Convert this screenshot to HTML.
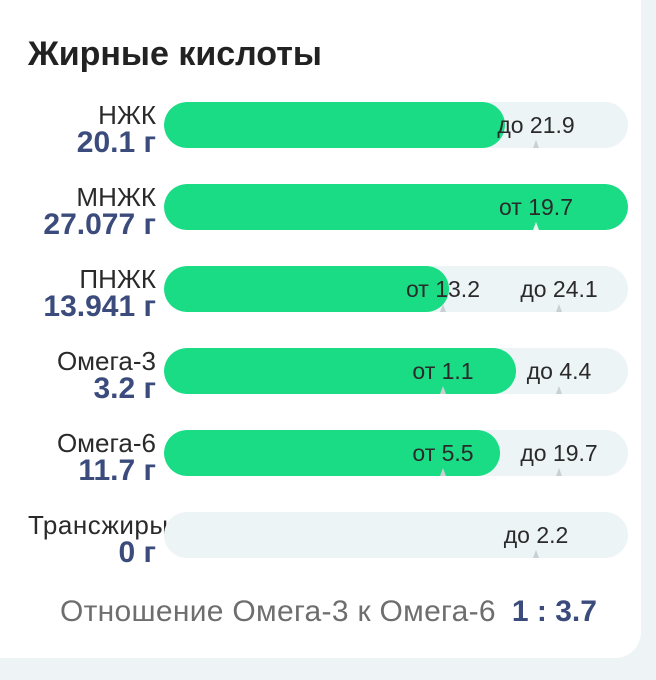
<!DOCTYPE html>
<html><head><meta charset="utf-8"><style>
body{margin:0;width:656px;height:680px;background:#eef4f5;font-family:"Liberation Sans",sans-serif;overflow:hidden;position:relative}
.card{position:absolute;left:-30px;top:-30px;width:671px;height:688px;background:#fff;border-radius:26px}
.title{position:absolute;left:28px;top:35px;font-size:34px;font-weight:bold;color:#222;white-space:nowrap}
.lab{position:absolute;right:500px;text-align:right;white-space:nowrap;line-height:28px}
.n{font-size:26px;color:#2a2a2a}
.v{font-size:30px;font-weight:bold;color:#3a4b7c}
.track{position:absolute;left:164px;width:464px;height:46px;border-radius:23px;background:#edf4f6;overflow:hidden}
.fill{position:absolute;left:0;top:0;height:46px;border-radius:23px;background:#19dc84}
.t{position:absolute;top:10px;font-size:23px;color:#2a2a2a;transform:translateX(-50%);white-space:nowrap}
.m{position:absolute;bottom:0;width:0;height:0;border-left:3px solid transparent;border-right:3px solid transparent;border-bottom:8px solid #c9cfd2;transform:translateX(-50%)}
.ratio{position:absolute;left:60px;top:595px;font-size:30px;line-height:34px;color:#6e6e6e;white-space:nowrap;letter-spacing:0.3px}
.ratio b{color:#3a4b7c;margin-left:16px;font-size:30px;letter-spacing:0}
</style></head><body>
<div class="card"></div>
<div class="title">Жирные кислоты</div>

<div class="lab" style="top:101px"><div class="n">НЖК</div><div class="v">20.1 г</div></div>
<div class="track" style="top:102px"><div class="fill" style="width:341px"></div><span class="m" style="left:372px"></span><span class="t" style="left:372px">до 21.9</span></div>

<div class="lab" style="top:183px"><div class="n">МНЖК</div><div class="v">27.077 г</div></div>
<div class="track" style="top:184px"><div class="fill" style="width:464px"></div><span class="m" style="left:372px;border-bottom-color:#e8f5ee"></span><span class="t" style="left:372px">от 19.7</span></div>

<div class="lab" style="top:265px"><div class="n">ПНЖК</div><div class="v">13.941 г</div></div>
<div class="track" style="top:266px"><div class="fill" style="width:285px"></div><span class="m" style="left:279px"></span><span class="m" style="left:395px"></span><span class="t" style="left:279px">от 13.2</span><span class="t" style="left:395px">до 24.1</span></div>

<div class="lab" style="top:347px"><div class="n">Омега-3</div><div class="v">3.2 г</div></div>
<div class="track" style="top:348px"><div class="fill" style="width:352px"></div><span class="m" style="left:279px"></span><span class="m" style="left:395px"></span><span class="t" style="left:279px">от 1.1</span><span class="t" style="left:395px">до 4.4</span></div>

<div class="lab" style="top:429px"><div class="n">Омега-6</div><div class="v">11.7 г</div></div>
<div class="track" style="top:430px"><div class="fill" style="width:336px"></div><span class="m" style="left:279px"></span><span class="m" style="left:395px"></span><span class="t" style="left:279px">от 5.5</span><span class="t" style="left:395px">до 19.7</span></div>

<div class="lab" style="top:511px;left:28px;right:auto;text-align:left;width:140px"><div class="n" style="letter-spacing:0.5px">Трансжиры</div><div class="v" style="text-align:right;padding-right:12px">0 г</div></div>
<div class="track" style="top:512px"><span class="m" style="left:372px"></span><span class="t" style="left:372px">до 2.2</span></div>

<div class="ratio">Отношение Омега-3 к Омега-6<b>1 : 3.7</b></div>
</body></html>
